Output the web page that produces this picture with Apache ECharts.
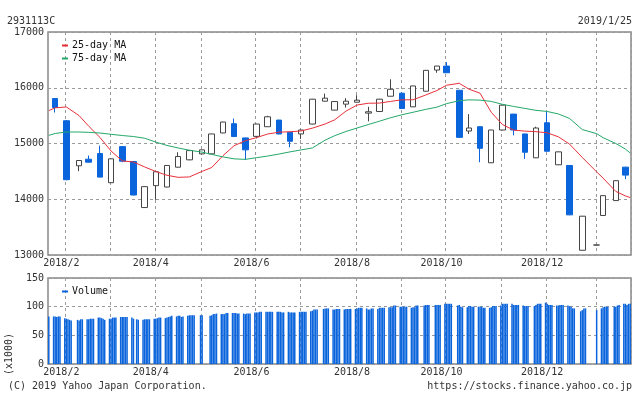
<!DOCTYPE html>
<html><head><meta charset="utf-8">
<script src="https://cdn.jsdelivr.net/npm/echarts@6/dist/echarts.min.js"></script>
<style>html,body{margin:0;padding:0;background:#fff}#c{width:634px;height:394px}</style>
</head><body><div id="c"></div>
<script>
// ---- data ----
const startDate = '2018-01-26';
const dayCount = 365;
const weekDates = ['2018-01-30','2018-02-06','2018-02-14','2018-02-20','2018-02-27','2018-03-06','2018-03-13','2018-03-20','2018-03-27','2018-04-03','2018-04-10','2018-04-17','2018-04-24','2018-05-02','2018-05-08','2018-05-15','2018-05-22','2018-05-29','2018-06-05','2018-06-12','2018-06-19','2018-06-26','2018-07-03','2018-07-10','2018-07-18','2018-07-24','2018-07-31','2018-08-07','2018-08-14','2018-08-21','2018-08-28','2018-09-04','2018-09-11','2018-09-19','2018-09-26','2018-10-02','2018-10-10','2018-10-16','2018-10-23','2018-10-30','2018-11-06','2018-11-13','2018-11-20','2018-11-27','2018-12-04','2018-12-11','2018-12-18','2018-12-26','2019-01-04','2019-01-08','2019-01-16','2019-01-22'];
const openP  = [15806,15408,14600,14718,14820,14297,14944,14677,13851,14244,14219,14575,14707,14814,14814,15189,15355,15100,15128,15301,15420,15201,15171,15349,15759,15599,15706,15741,15545,15574,15848,15902,15658,15938,16317,16389,15955,15224,15301,14654,15242,15527,15171,14743,15372,14618,14606,13085,13179,13709,13976,14576];
const closeP = [15645,14351,14695,14665,14397,14725,14683,14076,14226,14493,14606,14766,14873,14886,15171,15385,15125,14886,15349,15479,15171,15040,15242,15795,15813,15752,15759,15777,15569,15795,15973,15627,16032,16312,16389,16269,15110,15278,14914,15242,15688,15242,14843,15278,14861,14850,13720,13696,13179,14065,14333,14433];
const lowP   = [15556,14340,14504,14660,14397,14290,14665,14070,13845,13990,14215,14570,14700,14810,14810,15185,15120,14707,15092,15296,15165,14932,15082,15345,15755,15595,15645,15736,15398,15570,15845,15622,15655,15935,16269,16265,15105,15171,14664,14650,15238,15146,14725,14740,14857,14614,13715,13080,13179,13705,13972,14361];
const highP  = [15810,15420,14700,14784,14962,14730,14950,14680,14230,14500,14610,14843,14878,14890,15175,15390,15447,15105,15352,15497,15425,15205,15246,15800,15895,15755,15813,15866,15659,15800,16151,15920,16035,16315,16392,16460,15960,15527,15305,15245,15692,15530,15175,15301,15569,14854,14610,13700,13179,14068,14337,14580];
const maDates = ['2018-01-26'].concat(weekDates, ['2019-01-25']);
const ma25 = [15590,15640,15655,15500,15310,15110,14865,14688,14668,14580,14497,14430,14393,14400,14500,14570,14780,14960,15050,15105,15170,15203,15211,15225,15275,15350,15425,15580,15690,15722,15725,15755,15784,15784,15870,15950,16045,16080,15975,15902,15560,15340,15240,15222,15212,15192,15120,14990,14750,14490,14380,14140,14060,14030];
const ma75 = [15146,15180,15206,15206,15200,15188,15165,15143,15125,15095,15025,14965,14920,14880,14845,14805,14760,14725,14715,14745,14775,14810,14850,14885,14920,15060,15140,15215,15278,15340,15400,15462,15515,15560,15612,15652,15715,15768,15783,15778,15755,15703,15665,15630,15595,15575,15530,15450,15250,15177,15105,15000,14900,14830];
// daily volume (x1000), Mon..Fri per week; first row is the week of 2018-01-22
const volumeByWeek = [
 [null,null,null,null,83],
 [83,83,82,83,83],[80,79,78,77,76],[null,77,76,78,78],[78,78,79,79,79],[81,81,80,79,77],
 [79,79,81,81,81],[82,82,82,82,82],[81,79,null,78,77],[77,78,78,78,78],[79,79,80,81,81],
 [80,81,82,83,84],[83,84,84,82,83],[84,85,85,85,85],[null,85,85,null,null],[84,85,87,87,88],
 [87,87,87,89,89],[89,89,89,88,88],[88,87,88,88,88],[90,90,90,91,91],[91,91,91,91,91],
 [91,91,91,90,90],[91,90,90,90,90],[91,91,91,91,91],[92,93,95,95,95],[null,96,97,97,97],
 [95,95,96,96,96],[95,96,96,96,96],[96,97,98,98,98],[97,95,95,97,97],[96,98,98,98,98],
 [99,99,99,102,102],[100,100,100,100,100],[98,99,99,102,102],[null,102,103,103,103],[null,103,103,103,103],
 [105,105,105,105,105],[null,102,103,100,99],[99,101,101,100,100],[100,100,100,98,98],[98,99,101,101,101],
 [102,105,105,105,105],[105,103,103,103,103],[102,101,101,101,null],[101,103,105,105,105],[107,105,103,103,103],
 [102,102,103,103,103],[102,101,100,97,97],[null,92,94,97,97],[null,null,null,null,94],[97,99,100,100,100],
 [null,100,100,102,103],[105,105,103,105,105]
];
const gridDates = ['2018-02-06','2018-03-06','2018-04-03','2018-05-02','2018-06-05','2018-07-03','2018-08-07','2018-09-04','2018-10-02','2018-11-06','2018-12-04','2019-01-04'];
const tickLabels = ['2018/2','','2018/4','','2018/6','','2018/8','','2018/10','','2018/12',''];
const priceTicks = [13000,14000,15000,16000,17000];
const volumeTicks = [0,50,100,150];

// ---- build ----
function fmt(d){const m=d.getUTCMonth()+1, dd=d.getUTCDate();return d.getUTCFullYear()+'-'+(m<10?'0':'')+m+'-'+(dd<10?'0':'')+dd;}
const s0 = new Date(startDate+'T00:00:00Z');
const days = [];
for (let i=0;i<dayCount;i++) days.push(fmt(new Date(s0.getTime()+i*86400000)));
const idx = {}; days.forEach((d,i)=>idx[d]=i);
const candle = days.map(()=> '-');
weekDates.forEach((d,i)=>{candle[idx[d]] = [openP[i], closeP[i], lowP[i], highP[i]];});
const l25 = days.map(()=>null), l75 = days.map(()=>null);
maDates.forEach((d,i)=>{l25[idx[d]] = ma25[i]; l75[idx[d]] = ma75[i];});
const vol = days.map(()=>null);
volumeByWeek.forEach((w,wi)=>w.forEach((v,di)=>{const k = 7*wi+di-4; if(k>=0 && k<dayCount) vol[k]=v;}));
const gridSet = new Set(gridDates);
const labelMap = new Map(); gridDates.forEach((d,i)=>{ if (tickLabels[i]) labelMap.set(d, tickLabels[i]); });

const FONT = '"DejaVu Sans Mono", "Liberation Mono", monospace';
const BLUE = '#0a64dc', RED = '#e8303a', GREEN = '#24a86a', TXT = '#333';
function xAxis(g){
  return {type:'category', gridIndex:g, data:days, boundaryGap:true,
    axisLine:{show:false}, axisTick:{show:false},
    splitLine:{show:true, interval:(i,v)=>gridSet.has(v), lineStyle:{color:'#9a9a9a', type:[3,3], width:1}},
    axisLabel:{interval:(i,v)=>labelMap.has(v), formatter:v=>labelMap.get(v)||'', fontFamily:FONT, fontSize:10, color:TXT, margin:3, padding:[0,10,0,0]}};
}
function yAxis(g,min,max,step){
  return {type:'value', gridIndex:g, min, max, interval:step,
    axisLine:{show:false}, axisTick:{show:false},
    splitLine:{show:true, lineStyle:{color:'#9a9a9a', type:[3,3], width:1}},
    axisLabel:{formatter:v=>String(v), fontFamily:FONT, fontSize:10, color:TXT, margin:4}};
}
const chart = echarts.init(document.getElementById('c'), null, {renderer:'canvas'});
chart.setOption({
  animation:false,
  backgroundColor:'#fff',
  grid:[
    {left:48, right:3, top:32, height:223, show:true, borderColor:'#888', borderWidth:1.5, backgroundColor:'transparent'},
    {left:48, right:3, top:278, height:86, show:true, borderColor:'#888', borderWidth:1.5, backgroundColor:'transparent'}
  ],
  xAxis:[xAxis(0), xAxis(1)],
  yAxis:[yAxis(0, priceTicks[0], priceTicks[priceTicks.length-1], priceTicks[1]-priceTicks[0]),
         yAxis(1, volumeTicks[0], volumeTicks[volumeTicks.length-1], volumeTicks[1]-volumeTicks[0])],
  legend:[
    {data:['25-day MA','75-day MA'], orient:'vertical', left:57, top:35, itemWidth:6, itemHeight:2, itemGap:2, icon:'rect',
     textStyle:{fontFamily:FONT, fontSize:10, color:'#111', lineHeight:11, padding:[0,0,0,-1]}},
    {data:['Volume'], orient:'vertical', left:57, top:281, itemWidth:6, itemHeight:2, icon:'rect',
     textStyle:{fontFamily:FONT, fontSize:10, color:'#111', lineHeight:11, padding:[0,0,0,-1]}}
  ],
  series:[
    {name:'Price', type:'candlestick', xAxisIndex:0, yAxisIndex:0, data:candle, barWidth:6,
     itemStyle:{color:'#ffffff', color0:BLUE, borderColor:'#444', borderColor0:BLUE, borderColorDoji:'#444', borderWidth:1}},
    {name:'25-day MA', type:'line', xAxisIndex:0, yAxisIndex:0, data:l25, connectNulls:true, symbol:'none', color:RED, lineStyle:{width:1, color:RED}},
    {name:'75-day MA', type:'line', xAxisIndex:0, yAxisIndex:0, data:l75, connectNulls:true, symbol:'none', color:GREEN, lineStyle:{width:1, color:GREEN}},
    {name:'Volume', type:'bar', xAxisIndex:1, yAxisIndex:1, data:vol, barWidth:1.5, color:BLUE, itemStyle:{color:BLUE}}
  ],
  graphic:[
    {type:'text', left:7, top:16, style:{text:'2931113C', font:'10px '+FONT, fill:TXT}},
    {type:'text', right:2, top:16, style:{text:'2019/1/25', font:'10px '+FONT, fill:TXT}},
    {type:'text', left:8, top:381, style:{text:'(C) 2019 Yahoo Japan Corporation.', font:'10px '+FONT, fill:TXT}},
    {type:'text', right:2, top:381, style:{text:'https://stocks.finance.yahoo.co.jp', font:'10px '+FONT, fill:TXT}},
    {type:'text', x:9, y:354, rotation:Math.PI/2, style:{text:'(x1000)', font:'10px '+FONT, fill:TXT, align:'center', verticalAlign:'middle'}}
  ]
});
</script>
</body></html>
